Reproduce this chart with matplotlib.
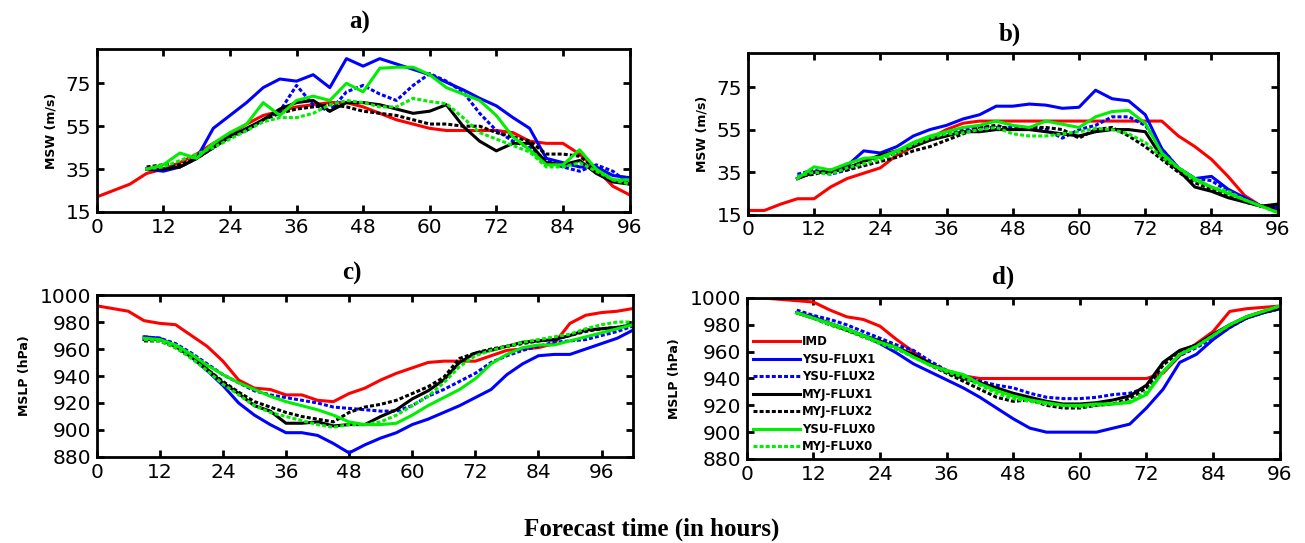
import matplotlib
matplotlib.use('Agg')
import matplotlib.pyplot as plt
import numpy as np

# forecast hours
t_obs = np.arange(0, 97, 3)
t_mod = np.arange(9, 97, 3)
t_obs_c = np.arange(0, 103, 3)
t_mod_c = np.arange(9, 103, 3)

labels = ['IMD', 'YSU-FLUX1', 'YSU-FLUX2', 'MYJ-FLUX1', 'MYJ-FLUX2', 'YSU-FLUX0', 'MYJ-FLUX0']

# a) MSW
a_imd = [22, 25, 28, 33, 35, 38, 42, 47, 51, 56, 60, 62, 64, 65, 66, 66, 64, 61, 58, 56,
         54, 53, 53, 53, 53, 52, 48, 47, 47, 42, 35, 27, 23]
a_ysu1 = [35, 34, 36, 40, 54, 60, 66, 73, 77, 76, 79, 73, 86.5, 83, 86.5, 84, 81.5, 79, 75.5, 72,
          68, 64.5, 59, 54, 40, 38, 36, 36, 32, 31]
a_ysu2 = [35, 35, 36, 40, 45, 51, 53, 58, 62, 74, 65, 62, 71, 74, 70, 67, 74, 79.5, 76, 71,
          61, 53, 48, 45, 39, 36, 34, 37, 34, 28]
a_myj1 = [35, 35, 36, 40, 45, 50, 54, 58, 63, 66, 67, 62, 66, 66, 65, 63, 61, 62, 65, 55,
          48, 43.5, 47, 47, 38, 37, 39, 33, 29, 28]
a_myj2 = [36, 37, 37, 40, 45, 50, 53, 58, 61, 63, 64, 65, 64, 62, 61, 60, 58, 56, 56, 55,
          55, 52, 50, 48, 42, 42, 41, 35, 30, 28]
a_ysu0 = [35, 37, 42.5, 40, 47, 52, 56, 66, 60, 67, 69, 67, 75, 71, 82, 82.5, 82.5, 79, 73, 70,
          67, 60, 50, 44, 37, 37, 44, 35, 30, 30]
a_myj0 = [35, 36, 39, 42, 45, 49, 53, 57, 59, 59, 61, 65, 67, 66, 64, 64, 68, 66.5, 65.5, 59,
          52, 49, 46, 43, 36, 36, 38, 34, 30, 28]

# b) MSW
b_imd = [17, 17, 20, 22.5, 22.5, 28, 32, 34.5, 37, 43, 47, 51, 55, 58, 59, 59, 59, 59, 59, 59,
         59, 59, 59, 59, 59, 59, 52, 47, 41, 33, 24, 19, 17]
b_ysu1 = [32, 35, 35, 38, 45, 44, 47, 52, 55, 57, 60, 62, 66, 66, 67, 66.5, 65, 65.5, 73.5, 69.5,
          68.5, 62, 46, 37, 32, 33, 27, 23, 19, 19]
b_ysu2 = [34, 36, 34, 36, 40, 42, 44, 48, 51, 53, 55, 56, 56, 56, 56, 55, 51, 55, 57, 61,
          61, 57, 46, 37, 32, 31, 26, 22, 19, 18]
b_myj1 = [32, 35, 35, 37, 40, 43, 45, 47, 50, 52, 54, 54, 55, 55, 55, 54, 53, 52, 54, 55,
          55, 54, 42, 36, 28, 26, 23, 21, 19, 20]
b_myj2 = [33, 34, 36, 36, 38, 40, 42, 45, 47, 50, 53, 56, 57, 55, 56, 56, 55, 51, 55, 56,
          52, 47, 41, 35, 30, 27, 24, 21, 19, 18]
b_ysu0 = [32, 37.5, 36, 39, 41.5, 42, 45, 49, 52, 54, 56, 57, 59, 57, 56, 59, 57.5, 56, 61, 63.5,
          64, 58, 44, 37, 32, 28, 25, 22, 19, 16]
b_myj0 = [33, 35, 34, 37, 39, 41, 44, 48, 51, 53, 53.5, 55, 56, 53, 52, 52, 53, 54, 55.5, 55,
          53, 49, 42, 37, 31, 28, 26, 22, 19, 16]

# c) MSLP
c_imd = [992, 990, 988, 981, 979, 978, 970, 962, 951, 937, 931, 930, 926, 926, 922, 921, 927, 931,
         937, 942, 946, 950, 951, 951, 951, 955, 959, 960, 961, 964, 979, 985, 987, 988, 990]
c_ysu1 = [969, 968, 962, 954, 944, 933, 920, 911, 904, 898, 898, 896, 890, 883, 889, 894, 898, 904,
          908, 913, 918, 924, 930, 941, 949, 955, 956, 956, 960, 964, 968, 974]
c_ysu2 = [969, 968, 964, 957, 949, 941, 935, 929, 926, 924, 922, 920, 917, 916, 915, 914, 914, 918,
          925, 930, 936, 942, 950, 955, 959, 962, 965, 966, 967, 970, 973, 977]
c_myj1 = [967, 967, 962, 955, 945, 935, 927, 918, 914, 905, 905, 906, 903, 904, 904, 910, 915, 923,
          929, 937, 950, 957, 959, 962, 965, 966, 967, 970, 974, 975, 976, 978]
c_myj2 = [966, 966, 961, 954, 945, 936, 928, 921, 917, 913, 910, 908, 906, 913, 917, 919, 922, 927,
          932, 939, 953, 957, 960, 962, 964, 966, 967, 970, 973, 975, 976, 978]
c_ysu0 = [968, 967, 963, 956, 948, 941, 935, 930, 925, 921, 918, 915, 911, 906, 904, 904, 905, 911,
          918, 924, 930, 938, 949, 956, 961, 963, 963, 966, 969, 972, 975, 978]
c_myj0 = [967, 966, 961, 953, 944, 934, 926, 918, 913, 910, 907, 904, 902, 904, 904, 906, 911, 918,
          925, 935, 947, 955, 959, 962, 965, 967, 969, 971, 975, 978, 980, 980]

# d) MSLP
d_imd = [1000, 1000, 999, 998, 997, 991, 986, 984, 979, 969, 960, 951, 946, 942, 940, 940, 940,
         940, 940, 940, 940, 940, 940, 940, 940, 944, 957, 966, 975, 990, 992, 993, 994]
d_ysu1 = [989, 986, 981, 977, 972, 966, 959, 951, 945, 939, 933, 926, 918, 910, 903, 900, 900, 900,
          900, 903, 906, 918, 932, 952, 958, 969, 978, 985, 989, 992]
d_ysu2 = [991, 987, 984, 980, 975, 970, 965, 961, 953, 946, 942, 938, 935, 933, 929, 926, 925, 925,
          926, 928, 929, 933, 945, 957, 963, 970, 978, 985, 989, 992]
d_myj1 = [989, 985, 981, 976, 972, 968, 963, 958, 951, 945, 940, 937, 933, 929, 926, 923, 921, 921,
          922, 924, 927, 935, 952, 961, 965, 973, 980, 986, 990, 993]
d_myj2 = [989, 985, 980, 976, 971, 967, 962, 957, 950, 944, 938, 932, 926, 923, 924, 920, 918, 918,
          920, 921, 925, 933, 950, 960, 965, 972, 979, 985, 989, 992]
d_ysu0 = [989, 985, 981, 977, 972, 967, 963, 956, 950, 946, 943, 936, 931, 927, 924, 922, 920, 920,
          921, 921, 922, 928, 945, 958, 964, 972, 980, 986, 990, 994]
d_myj0 = [989, 985, 980, 976, 971, 966, 962, 956, 950, 945, 941, 935, 929, 925, 923, 921, 920, 919,
          920, 921, 923, 930, 945, 958, 964, 972, 980, 986, 990, 994]

colors = ['#ff0000', '#0000ff', '#0000ff', '#000000', '#000000', '#00ee00', '#00ee00']
dash = (0, (1.3, 0.7))
styles = ['-', '-', dash, '-', dash, '-', dash]


def draw(ax, t_o, t_m, series, ylim, yticks, xlim, ylabel):
    for i, y in enumerate(series):
        t = t_o if i == 0 else t_m
        ax.plot(t, y, color=colors[i], linestyle=styles[i], lw=2.2, label=labels[i])
    ax.set_xlim(*xlim)
    ax.set_ylim(*ylim)
    ax.set_xticks(np.arange(0, 97, 12))
    ax.set_yticks(yticks)
    ax.tick_params(direction='in', top=True, right=True, length=5, width=2,
                   labelsize=14.5, pad=4)
    for s in ax.spines.values():
        s.set_linewidth(2)
    ax.set_ylabel(ylabel, fontsize=9, fontweight='bold', labelpad=6)


fig = plt.figure(figsize=(13.05, 5.43), dpi=100)
ax_a = fig.add_axes([0.0741, 0.6096, 0.4083, 0.3002])
ax_b = fig.add_axes([0.5730, 0.6046, 0.4061, 0.2978])
ax_c = fig.add_axes([0.0741, 0.1584, 0.4110, 0.2983])
ax_d = fig.add_axes([0.5722, 0.1547, 0.4084, 0.2965])

draw(ax_a, t_obs, t_mod, [a_imd, a_ysu1, a_ysu2, a_myj1, a_myj2, a_ysu0, a_myj0],
     (15, 91), [15, 35, 55, 75], (0, 96), 'MSW (m/s)')
draw(ax_b, t_obs, t_mod, [b_imd, b_ysu1, b_ysu2, b_myj1, b_myj2, b_ysu0, b_myj0],
     (15, 91), [15, 35, 55, 75], (0, 96), 'MSW (m/s)')
draw(ax_c, t_obs_c, t_mod_c, [c_imd, c_ysu1, c_ysu2, c_myj1, c_myj2, c_ysu0, c_myj0],
     (880, 1000), np.arange(880, 1001, 20), (0, 102), 'MSLP (hPa)')
draw(ax_d, t_obs, t_mod, [d_imd, d_ysu1, d_ysu2, d_myj1, d_myj2, d_ysu0, d_myj0],
     (880, 1000), np.arange(880, 1001, 20), (0, 96), 'MSLP (hPa)')

ax_d.legend(loc='lower left', bbox_to_anchor=(0.0, -0.005), frameon=False,
            prop={'size': 8.5, 'weight': 'bold'}, handlelength=4.0, handletextpad=0.15,
            labelspacing=0.38, borderaxespad=0.15)

serif = {'family': 'Liberation Serif', 'weight': 'bold'}
fig.text(0.276, 0.958, 'a)', ha='center', va='center', fontsize=18, fontdict=serif)
fig.text(0.774, 0.936, 'b)', ha='center', va='center', fontsize=18, fontdict=serif)
fig.text(0.270, 0.497, 'c)', ha='center', va='center', fontsize=18, fontdict=serif)
fig.text(0.769, 0.490, 'd)', ha='center', va='center', fontsize=18, fontdict=serif)
fig.text(0.499, 0.025, 'Forecast time (in hours)', ha='center', va='center',
         fontsize=18, fontdict=serif)

fig.savefig('out.png', dpi=100)
